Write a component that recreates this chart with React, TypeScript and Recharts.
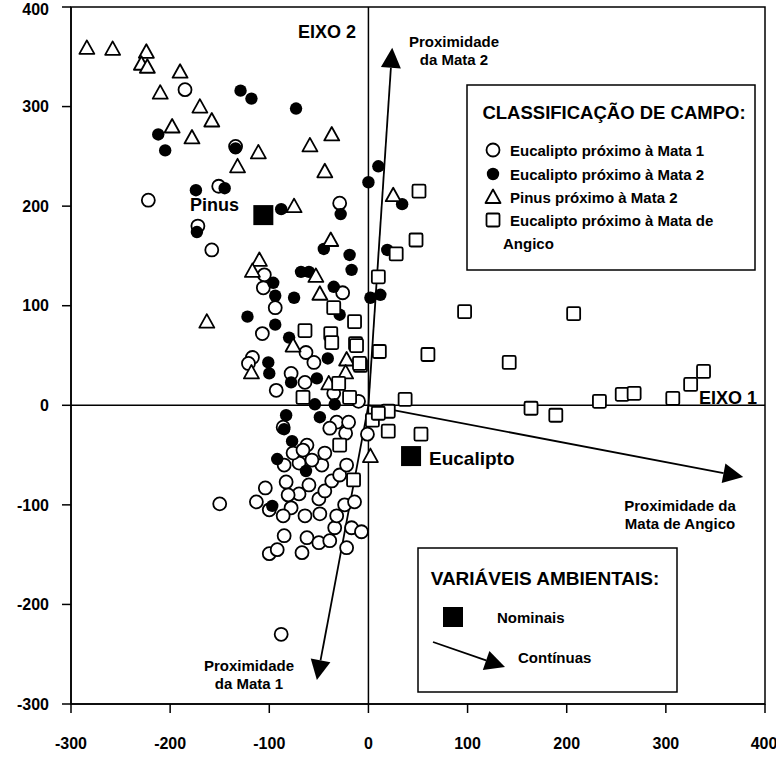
import {
  ScatterChart,
  Scatter,
  XAxis,
  YAxis,
  ReferenceLine,
  ReferenceArea,
} from 'recharts'

type Pt = [number, number]

// Eucalipto próximo à Mata 1 (open circles)
const eucMata1: Pt[] = [
  [-185, 317], [-222, 206], [-151, 220], [-29, 203], [-172, 180], [-158, 156], [-105, 131], [-106, 118],
  [-26, 113], [-94, 98], [-107, 72], [-63, 53], [-55, 43], [-117, 48], [-121, 42], [-93, 15], [-78, 32],
  [-64, 23], [-35, 12], [-10, 4], [-134, 260], [-150, -99], [-104, -83], [-113, -97], [-100, -105],
  [-85, -131], [-100, -149], [-92, -145], [-67, -148], [-62, -133], [-50, -138], [-39, -136], [-22, -143],
  [-17, -123], [-7, -127], [-34, -123], [-32, -111], [-24, -100], [-14, -97], [-49, -109], [-64, -111],
  [-78, -103], [-86, -111], [-50, -94], [-44, -86], [-70, -89], [-81, -90], [-60, -80], [-83, -77],
  [-37, -76], [-29, -70], [-22, -60], [-47, -60], [-70, -58], [-85, -60], [-76, -48], [-62, -40],
  [-66, -45], [-44, -48], [-23, -28], [-32, -17], [-20, -17], [-39, -23], [-1, -29], [-86, -22],
  [-57, -55], [-88, -230],
]

// Eucalipto próximo à Mata 2 (filled circles)
const eucMata2: Pt[] = [
  [-129, 316], [-118, 308], [-73, 298], [-212, 272], [-205, 256], [-134, 258], [-145, 218], [-174, 216],
  [-88, 197], [-28, 192], [0, 224], [10, 240], [-173, 174], [-45, 157], [-19, 151], [-17, 136], [-68, 134],
  [-60, 134], [-96, 123], [-94, 110], [-75, 108], [-35, 119], [-122, 89], [-94, 81], [-29, 91], [-80, 68],
  [-41, 47], [-101, 43], [-100, 32], [-78, 23], [-52, 27], [-54, 1], [-34, 1], [2, 108], [12, 111],
  [19, 156], [34, 202], [-83, -10], [-85, -24], [-77, -36], [-92, -54], [-63, -66], [-97, -101], [-49, -12],
]

// Pinus próximo à Mata 2 (open triangles)
const pinusMata2: Pt[] = [
  [-284, 359], [-258, 358], [-224, 355], [-229, 343], [-223, 340], [-190, 335], [-210, 314], [-170, 300],
  [-158, 286], [-198, 280], [-178, 269], [-111, 254], [-132, 240], [-59, 261], [-37, 272], [-44, 235],
  [-75, 200], [-38, 166], [-110, 146], [-117, 135], [-53, 130], [-49, 112], [-163, 84], [-76, 60],
  [-22, 46], [-118, 33], [-23, 33], [-40, 22], [2, -51], [25, 211],
]

// Eucalipto próximo à Mata de Angico (open squares)
const eucAngico: Pt[] = [
  [51, 215], [48, 166], [28, 152], [10, 129], [97, 94], [207, 92], [60, 51], [142, 43], [11, 54],
  [-14, 84], [-13, 62], [-8, 40], [37, 6], [20, -6], [20, -26], [53, -29], [164, -3], [189, -10],
  [233, 4], [256, 11], [268, 12], [307, 7], [325, 21], [338, 34], [-19, 8], [-35, 98], [-64, 75],
  [-38, 72], [-37, 63], [-12, 60], [-9, 42], [-30, 22], [-66, 8], [-15, -75], [-29, -40], [4, -15], [10, -8],
]

// nominal environmental variables
const nominais: Pt[] = [[-106, 191], [43, -51]]

// continuous variables: arrow tips (from origin)
const mata2Tip = { x: 24, y: 359 }
const mata1Tip = { x: -52, y: -276 }
const angicoTip = { x: 378, y: -72 }

const ticks = [-300, -200, -100, 0, 100, 200, 300, 400]

const toPts = (arr: Pt[]) => arr.map(([x, y]) => ({ x, y }))

const SW = 1.8

const OpenCircle = ({ cx, cy }: any) => (
  <circle cx={cx} cy={cy} r={6.5} fill="#fff" stroke="#000" strokeWidth={SW} />
)
const FilledCircle = ({ cx, cy }: any) => <circle cx={cx} cy={cy} r={6.2} fill="#000" />
const Triangle = ({ cx, cy }: any) => (
  <polygon
    points={`${cx},${cy - 7.5} ${cx - 7.5},${cy + 6} ${cx + 7.5},${cy + 6}`}
    fill="#fff"
    stroke="#000"
    strokeWidth={SW}
    strokeLinejoin="round"
  />
)
const Square = ({ cx, cy }: any) => (
  <rect x={cx - 6.5} y={cy - 6.5} width={13} height={13} rx={1.5} fill="#fff" stroke="#000" strokeWidth={SW} />
)
const BigSquare = ({ cx, cy }: any) => <rect x={cx - 10} y={cy - 10} width={20} height={20} fill="#000" />

function arrowParts(x1: number, y1: number, x2: number, y2: number) {
  const dx = x2 - x1
  const dy = y2 - y1
  const len = Math.hypot(dx, dy) || 1
  const ux = dx / len
  const uy = dy / len
  const L = 20
  const W = 10
  const bx = x2 - ux * L
  const by = y2 - uy * L
  const pts = `${x2},${y2} ${bx - uy * W},${by + ux * W} ${bx + uy * W},${by - ux * W}`
  return { bx, by, pts }
}

const ArrowShape = (props: any) => {
  const { x1, y1, x2, y2 } = props
  const { bx, by, pts } = arrowParts(x1, y1, x2, y2)
  return (
    <g>
      <line x1={x1} y1={y1} x2={bx} y2={by} stroke="#000" strokeWidth={1.8} />
      <polygon points={pts} fill="#000" />
    </g>
  )
}

const tickStyle = { fill: '#000', fontSize: 16, fontWeight: 700 }
const bold = { fontWeight: 700, fill: '#000' } as const

function Overlay() {
  const legendArrow = arrowParts(433, 642, 505, 667)
  return (
    <svg
      width={776}
      height={760}
      style={{ position: 'absolute', left: 0, top: 0, pointerEvents: 'none' }}
      fontFamily="'Liberation Sans', Arial, sans-serif"
    >
      <text x={298} y={32} fontSize={18} dominantBaseline="central" {...bold}>EIXO 2</text>
      <text x={454} y={41} fontSize={15} textAnchor="middle" dominantBaseline="central" {...bold}>Proximidade</text>
      <text x={454} y={59} fontSize={15} textAnchor="middle" dominantBaseline="central" {...bold}>da Mata 2</text>
      <text x={190} y={205} fontSize={18} dominantBaseline="central" {...bold}>Pinus</text>
      <text x={699} y={398} fontSize={18} dominantBaseline="central" {...bold}>EIXO 1</text>
      <text x={429} y={458} fontSize={19} dominantBaseline="central" {...bold}>Eucalipto</text>
      <text x={680} y={505} fontSize={15} textAnchor="middle" dominantBaseline="central" {...bold}>Proximidade da</text>
      <text x={680} y={523} fontSize={15} textAnchor="middle" dominantBaseline="central" {...bold}>Mata de Angico</text>
      <text x={249} y={665} fontSize={15} textAnchor="middle" dominantBaseline="central" {...bold}>Proximidade</text>
      <text x={249} y={683} fontSize={15} textAnchor="middle" dominantBaseline="central" {...bold}>da Mata 1</text>

      {/* legend: field classification */}
      <rect x={467} y={85} width={288} height={185} fill="#fff" stroke="#000" strokeWidth={1.5} />
      <text x={614} y={112} fontSize={18.5} textAnchor="middle" dominantBaseline="central" {...bold}>
        CLASSIFICAÇÃO DE CAMPO:
      </text>
      <OpenCircle cx={493} cy={150} />
      <text x={510} y={150} fontSize={15} dominantBaseline="central" {...bold}>Eucalipto próximo à Mata 1</text>
      <FilledCircle cx={493} cy={174} />
      <text x={510} y={174} fontSize={15} dominantBaseline="central" {...bold}>Eucalipto próximo à Mata 2</text>
      <Triangle cx={493} cy={197} />
      <text x={510} y={197} fontSize={15} dominantBaseline="central" {...bold}>Pinus próximo à Mata 2</text>
      <Square cx={493} cy={220} />
      <text x={510} y={220} fontSize={15} dominantBaseline="central" {...bold}>Eucalipto próximo à Mata de</text>
      <text x={503} y={243} fontSize={15} dominantBaseline="central" {...bold}>Angico</text>

      {/* legend: environmental variables */}
      <rect x={418} y={548} width={259} height={144} fill="#fff" stroke="#000" strokeWidth={1.5} />
      <text x={545} y={578} fontSize={19} textAnchor="middle" dominantBaseline="central" {...bold}>
        VARIÁVEIS AMBIENTAIS:
      </text>
      <BigSquare cx={453} cy={617} />
      <text x={497} y={617} fontSize={15} dominantBaseline="central" {...bold}>Nominais</text>
      <line x1={433} y1={642} x2={legendArrow.bx} y2={legendArrow.by} stroke="#000" strokeWidth={1.8} />
      <polygon points={legendArrow.pts} fill="#000" />
      <text x={518} y={657} fontSize={15} dominantBaseline="central" {...bold}>Contínuas</text>
    </svg>
  )
}

export default function App() {
  return (
    <div
      style={{
        position: 'absolute',
        left: 0,
        top: 0,
        width: 776,
        height: 760,
        background: '#fff',
        fontFamily: "'Liberation Sans', Arial, sans-serif",
      }}
    >
      <ScatterChart width={776} height={760} margin={{ top: 7, right: 11, bottom: 0, left: 0 }}>
        <XAxis
          type="number"
          dataKey="x"
          domain={[-300, 400]}
          ticks={ticks}
          allowDataOverflow
          height={56}
          tickSize={9}
          tickMargin={25}
          tick={tickStyle}
          axisLine={{ stroke: '#000', strokeWidth: 1.5 }}
          tickLine={{ stroke: '#000', strokeWidth: 1.5 }}
        />
        <YAxis
          type="number"
          dataKey="y"
          domain={[-300, 400]}
          ticks={ticks}
          allowDataOverflow
          width={71}
          tickSize={9}
          tickMargin={13}
          tick={tickStyle}
          axisLine={{ stroke: '#000', strokeWidth: 1.5 }}
          tickLine={{ stroke: '#000', strokeWidth: 1.5 }}
        />
        <ReferenceArea x1={-300} x2={400} y1={-300} y2={400} fill="none" stroke="#000" strokeWidth={1.5} />
        <ReferenceLine x={0} stroke="#000" strokeWidth={1.5} />
        <ReferenceLine y={0} stroke="#000" strokeWidth={1.5} />
        <Scatter data={toPts(eucMata1)} shape={(p: any) => <OpenCircle {...p} />} isAnimationActive={false} />
        <Scatter data={toPts(eucMata2)} shape={(p: any) => <FilledCircle {...p} />} isAnimationActive={false} />
        <Scatter data={toPts(pinusMata2)} shape={(p: any) => <Triangle {...p} />} isAnimationActive={false} />
        <Scatter data={toPts(eucAngico)} shape={(p: any) => <Square {...p} />} isAnimationActive={false} />
        <Scatter data={toPts(nominais)} shape={(p: any) => <BigSquare {...p} />} isAnimationActive={false} />
        <ReferenceLine segment={[{ x: 0, y: 0 }, mata2Tip]} shape={(p: any) => <ArrowShape {...p} />} />
        <ReferenceLine segment={[{ x: 0, y: 0 }, mata1Tip]} shape={(p: any) => <ArrowShape {...p} />} />
        <ReferenceLine segment={[{ x: 0, y: 0 }, angicoTip]} shape={(p: any) => <ArrowShape {...p} />} />
      </ScatterChart>
      <Overlay />
    </div>
  )
}
